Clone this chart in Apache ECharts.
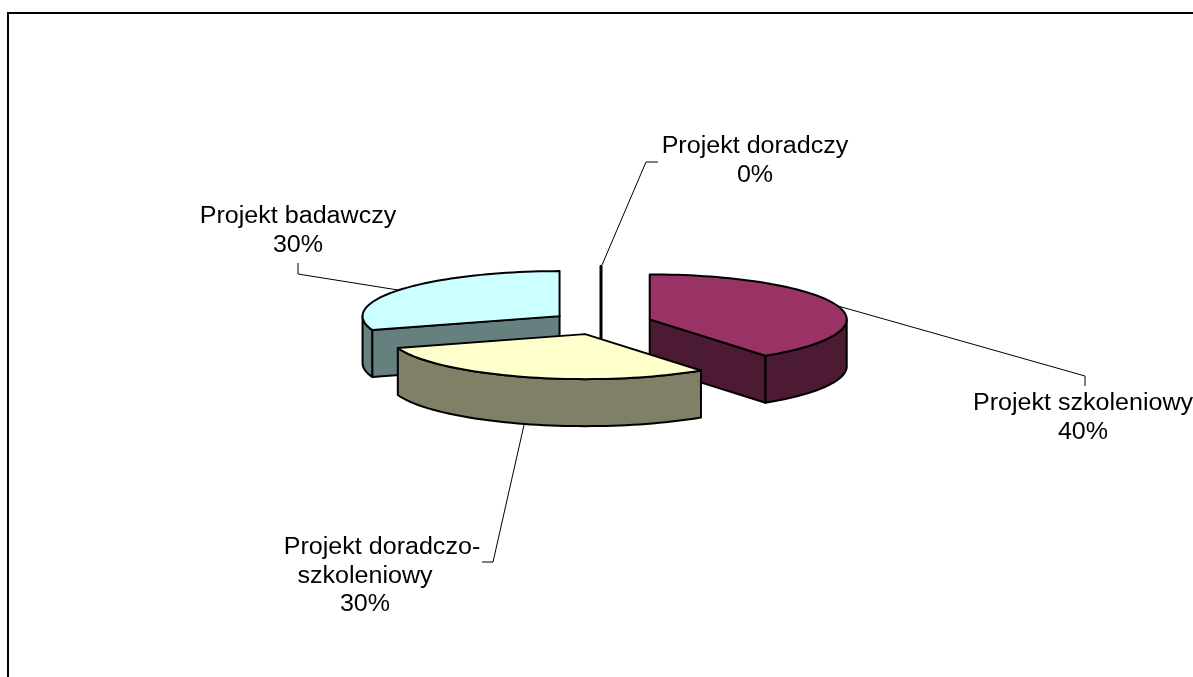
<!DOCTYPE html>
<html>
<head>
<meta charset="utf-8">
<style>html,body{margin:0;padding:0;background:#fff;overflow:hidden}#c{width:1193px;height:677px}</style>
<script src="https://cdn.jsdelivr.net/npm/echarts@6/dist/echarts.min.js"></script>
</head>
<body>
<div id="c"></div>
<script>
// Data, in the pie's clockwise order starting at 12 o'clock
const categories = ['Projekt szkoleniowy', 'Projekt doradczo-\nszkoleniowy', 'Projekt badawczy', 'Projekt doradczy'];
const values = [40, 30, 30, 0];
const topColors = ['#993366', '#FFFFCC', '#CCFFFF', '#9999FF'];
const sideColors = ['#4D1A33', '#808066', '#668080', '#4D4D80'];

// Projection of the tilted, exploded pie
const pie = { cx: 601, cy: 323, rx: 197, ry: 45, depth: 47, explode: 0.26 };

// Label and leader-line layout (annotation only, indexed like categories)
const labelCentres = [[1083, 404], [365, 548], [298, 217], [755, 147]];
const firstLineShift = [0, 17, 0, 0];
const leaders = [
  [[838, 306], [1085, 376], [1085, 386]],
  [[524, 425], [493, 562], [482, 562]],
  [[398, 290], [298, 274], [298, 263]],
  [[602, 265], [646, 162], [658, 162]]
];
const lineHeight = 28.5;
const stretch = 1.09;

const total = values.reduce((a, b) => a + b, 0);
const rad = d => d * Math.PI / 180;
let run = 0;
const slices = values.map((v, i) => {
  const a0 = run / total * 360; run += v;
  return { i, a0, a1: run / total * 360 };
});
function apexOf(s) {
  const m = rad(s.a1 === s.a0 && s.a0 === 360 ? 0 : (s.a0 + s.a1) / 2);
  return [pie.cx + Math.sin(m) * pie.rx * pie.explode, pie.cy - Math.cos(m) * pie.ry * pie.explode];
}
const rim = (ap, a) => [ap[0] + Math.sin(rad(a)) * pie.rx, ap[1] - Math.cos(rad(a)) * pie.ry];
const down = p => [p[0], p[1] + pie.depth];
function arc(ap, a0, a1) {
  const pts = [];
  const n = Math.max(1, Math.ceil((a1 - a0) / 2));
  for (let k = 0; k <= n; k++) pts.push(rim(ap, a0 + (a1 - a0) * k / n));
  return pts;
}
// back-to-front painting order
const order = slices.slice().sort((a, b) => apexOf(a)[1] - apexOf(b)[1]);

function sliceShapes(s) {
  const ap = apexOf(s), kids = [];
  const stroke = { stroke: '#000', lineWidth: 2, lineJoin: 'round' };
  const poly = (points, fill, extra) => ({ type: 'polygon', shape: { points },
    style: Object.assign({ fill }, stroke, extra || {}) });
  if (s.a1 === s.a0) {
    kids.push(poly([rim(ap, s.a0), ap, down(ap)], 'none', { lineWidth: 3 }));
    return kids;
  }
  const wall = a => { const e = rim(ap, a); return poly([ap, e, down(e), down(ap)], sideColors[s.i]); };
  if (Math.cos(rad(s.a0 - 90)) < -1e-6) kids.push(wall(s.a0));
  if (Math.cos(rad(s.a1 + 90)) < -1e-6) kids.push(wall(s.a1));
  const lo = Math.max(s.a0, 90), hi = Math.min(s.a1, 270);
  if (hi > lo) {
    const top = arc(ap, lo, hi);
    kids.push(poly(top.concat(top.map(down).reverse()), sideColors[s.i]));
  }
  kids.push(poly([ap].concat(arc(ap, s.a0, s.a1)), topColors[s.i]));
  return kids;
}

const chart = echarts.init(document.getElementById('c'), null, { renderer: 'canvas', width: 1193, height: 677 });
chart.setOption({
  animation: false,
  backgroundColor: '#fff',
  graphic: [{ type: 'rect', silent: true, z: 0,
    shape: { x: 8, y: 13, width: 1400, height: 900 },
    style: { fill: 'none', stroke: '#000', lineWidth: 2 } }],
  series: [
    { // leader lines, behind the pie
      type: 'custom', coordinateSystem: 'none', silent: true, z: 2,
      data: categories.map((c, i) => i),
      renderItem: (p, api) => ({ type: 'polyline', shape: { points: leaders[api.value(0)] },
        style: { fill: 'none', stroke: '#000', lineWidth: 1 } })
    },
    { // pie slices
      type: 'custom', coordinateSystem: 'none', silent: true, z: 3,
      data: order.map(s => [s.i, values[s.i]]),
      renderItem: (p, api) => ({ type: 'group', children: sliceShapes(slices[api.value(0)]) })
    },
    { // labels
      type: 'custom', coordinateSystem: 'none', silent: true, z: 4,
      data: categories.map((c, i) => i),
      renderItem: (p, api) => {
        const i = api.value(0);
        const lines = categories[i].split('\n').concat([values[i] + '%']);
        return { type: 'group', children: lines.map((t, k) => ({
          type: 'text', x: labelCentres[i][0] + (k === 0 ? firstLineShift[i] : 0),
          y: labelCentres[i][1] + k * lineHeight, scaleX: stretch,
          style: { text: t, fill: '#000', textAlign: 'center', textVerticalAlign: 'middle',
            font: '23px "Liberation Sans", Arial, sans-serif' }
        })) };
      }
    }
  ]
});
</script>
</body>
</html>
